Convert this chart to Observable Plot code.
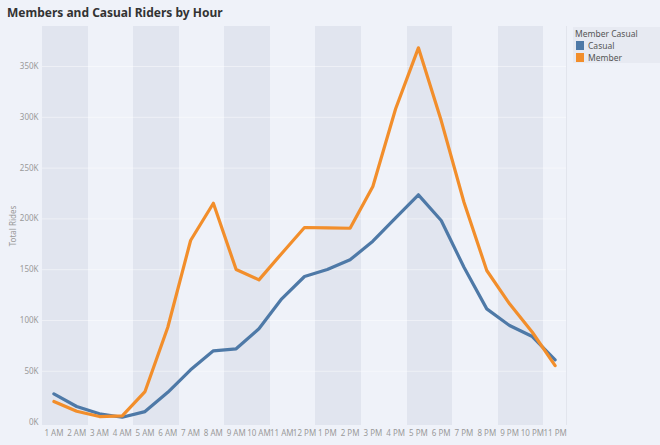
<!DOCTYPE html>
<html><head><meta charset="utf-8">
<script src="https://cdn.jsdelivr.net/npm/d3@7"></script>
<script src="https://cdn.jsdelivr.net/npm/@observablehq/plot@0.6"></script>
<style>
html,body{margin:0;padding:0;background:#eff2f9;}
#wrap{position:relative;width:660px;height:445px;overflow:hidden;font-family:"Noto Sans",sans-serif;background:#eff2f9;}
#title{position:absolute;left:7px;top:4px;font-size:12px;font-weight:700;color:#333;}
#legend{position:absolute;left:573px;top:27px;width:87px;height:36px;background:#e7eaf2;font-size:8.5px;color:#555;}
#legend .t{position:absolute;left:2px;top:1px;}
#legend .it{position:absolute;left:3px;height:10px;display:flex;align-items:center;}
#legend .sw{width:8px;height:9px;margin-right:4px;}
#border{position:absolute;left:566px;top:26px;width:0;height:399px;border-left:1px solid #e2e5ed;}
#plot{position:absolute;left:0;top:0;}
</style></head>
<body>
<div id="wrap">
  <div id="plot"></div>
  <div id="border"></div>
  <div id="title">Members and Casual Riders by Hour</div>
  <div id="legend"></div>
</div>
<script>
const hours = ["1 AM","2 AM","3 AM","4 AM","5 AM","6 AM","7 AM","8 AM","9 AM","10 AM","11 AM","12 PM",
  "1 PM","2 PM","3 PM","4 PM","5 PM","6 PM","7 PM","8 PM","9 PM","10 PM","11 PM"];
// thousands of rides
const casual = [27.8,15.3,8.1,4.7,10.3,29.3,51.4,70.1,72.1,91.8,121.3,143.3,
  150.1,159.7,178,201,223.7,198.4,152.4,111.4,95,84.2,61.2];
const member = [20.2,10.6,5.4,6.1,30,93.3,178.7,215.4,150.1,140,166,191.5,
  191.2,190.8,231.9,308.4,368.4,296.8,216.4,149.2,116.4,88.4,55.6];
const seriesNames = ["Casual","Member"];
const seriesColors = ["#4e79a7","#f28e2b"];
const yTicks = [0,50000,100000,150000,200000,250000,300000,350000];
const yDomain = [-3400, 389400];

const rows = [];
hours.forEach((h,i)=>{
  rows.push({hour:h, type:"Casual", rides:casual[i]*1000});
});
hours.forEach((h,i)=>{
  rows.push({hour:h, type:"Member", rides:member[i]*1000});
});
const shaded = hours.filter((h,i)=> Math.floor(i/2)%2===0);

const chart = Plot.plot({
  width:660, height:445,
  marginTop:26, marginBottom:20, marginLeft:42, marginRight:94,
  style:{background:"transparent", fontFamily:'"Noto Sans",sans-serif', fontSize:"8px", color:"#9a9a9a"},
  x:{type:"band", domain:hours, padding:0, round:false, label:null, tickSize:0, tickPadding:5},
  y:{domain:yDomain, ticks:yTicks, tickFormat:d=>d/1000+"K", tickSize:0, tickPadding:4,
     label:"Total Rides", labelAnchor:"center", labelOffset:32, labelArrow:"none"},
  color:{domain:seriesNames, range:seriesColors},
  marks:[
    Plot.barY(shaded, {x:d=>d, y1:yDomain[0], y2:yDomain[1], fill:"#e1e5ef", shapeRendering:"crispEdges"}),
    Plot.ruleY(yTicks.filter(d=>d>0), {stroke:"#ffffff", strokeOpacity:0.45}),
    Plot.line(rows, {x:"hour", y:"rides", stroke:"type", z:"type", strokeWidth:3.2})
  ]
});
document.getElementById("plot").appendChild(chart);

const lg = document.getElementById("legend");
lg.innerHTML = '<div class="t">Member Casual</div>' + seriesNames.map((n,i)=>
  `<div class="it" style="top:${13+i*12}px"><div class="sw" style="background:${seriesColors[i]}"></div>${n}</div>`).join("");
</script>
</body></html>
